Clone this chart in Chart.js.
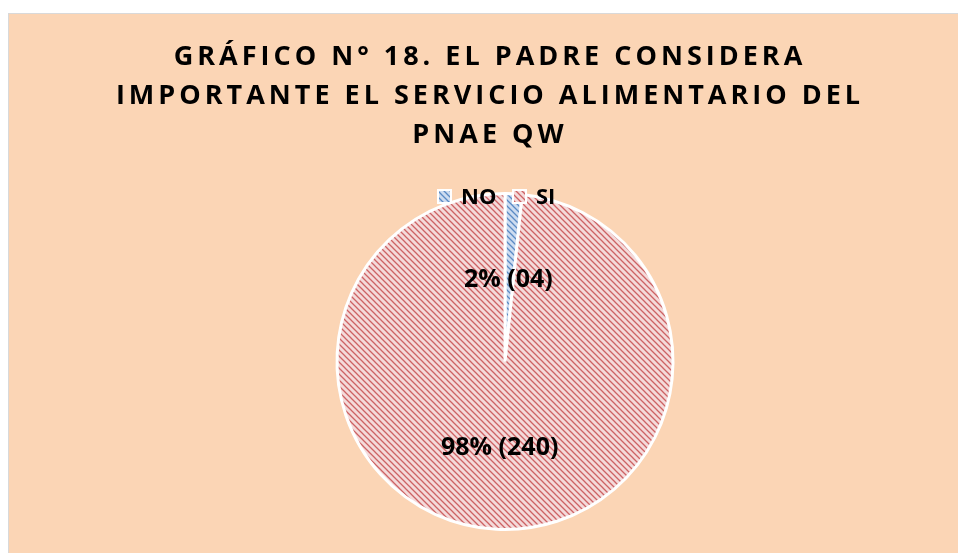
<!DOCTYPE html>
<html>
<head>
<meta charset="utf-8">
<script src="https://cdn.jsdelivr.net/npm/chart.js@4.4.0/dist/chart.umd.min.js"></script>
<style>
    body { margin: 0; background: #ffffff; }
    #wrap {
        position: absolute; left: 8px; top: 13px;
        width: 950px; height: 540px;
        border-left: 1px solid #d9d9d9; border-top: 1px solid #d9d9d9;
        background: #fbd5b5;
    }
    canvas { display: block; }
</style>
</head>
<body>
<div id="wrap"><canvas id="pieChart" width="949" height="539" style="width:949px;height:539px"></canvas></div>
<script>
const titleLines = ['GRÁFICO N° 18. EL PADRE CONSIDERA', 'IMPORTANTE EL SERVICIO ALIMENTARIO DEL', 'PNAE QW'];
const categories = ['NO', 'SI'];
const counts = [4, 240];
const countLabels = ['04', '240'];

function makeHatch(base, line) {
    const size = 6;
    const c = document.createElement('canvas');
    c.width = size;
    c.height = size;
    const g = c.getContext('2d');
    g.fillStyle = base;
    g.fillRect(0, 0, size, size);
    g.strokeStyle = line;
    g.lineWidth = 1.3;
    g.beginPath();
    g.moveTo(-1, -1); g.lineTo(size + 1, size + 1);
    g.moveTo(-1, size - 1); g.lineTo(1, size + 1);
    g.moveTo(size - 1, -1); g.lineTo(size + 1, 1);
    g.stroke();
    return g.createPattern(c, 'repeat');
}

const fills = [makeHatch('#cddcf0', '#5a8ac4'), makeHatch('#f4dada', '#cd6264')];

// title, legend and slice labels drawn by hand (Excel style)
const excelBits = {
    id: 'excelBits',
    afterDraw(chart) {
        const ctx = chart.ctx;
        ctx.save();
        ctx.fillStyle = '#000000';
        ctx.textBaseline = 'alphabetic';
        ctx.textAlign = 'center';

        // title with letter spacing
        ctx.font = 'bold 27px "Open Sans"';
        ctx.letterSpacing = '4px';
        titleLines.forEach((line, i) => {
            ctx.fillText(line, 481, 51 + i * 39);
        });
        ctx.letterSpacing = '0px';

        // legend
        ctx.font = 'bold 22px "Open Sans"';
        ctx.textAlign = 'left';
        const legendX = [429, 504];
        categories.forEach((name, i) => {
            const x = legendX[i];
            ctx.fillStyle = '#ffffff';
            ctx.fillRect(x - 1, 175, 15, 15);
            ctx.fillStyle = fills[i];
            ctx.fillRect(x + 1, 177, 11, 11);
            ctx.fillStyle = '#000000';
            ctx.fillText(name, x + 23, 190);
        });

        // slice labels
        const meta = chart.getDatasetMeta(0);
        const total = counts.reduce((a, b) => a + b, 0);
        ctx.font = 'bold 25px "Open Sans"';
        ctx.textAlign = 'center';
        ctx.textBaseline = 'middle';
        meta.data.forEach((arc, i) => {
            const pos = arc.tooltipPosition();
            const pct = Math.round(counts[i] / total * 100);
            ctx.fillText(pct + '% (' + countLabels[i] + ')', pos.x - 1, pos.y + 2);
        });
        ctx.restore();
    }
};

new Chart(document.getElementById('pieChart').getContext('2d'), {
    type: 'pie',
    data: {
        labels: categories,
        datasets: [{
            data: counts,
            backgroundColor: fills,
            borderColor: '#ffffff',
            borderWidth: 3
        }]
    },
    options: {
        responsive: false,
        animation: false,
        layout: {
            padding: { top: 178, bottom: 22, left: 43, right: 0 }
        },
        plugins: {
            legend: { display: false },
            title: { display: false },
            tooltip: { enabled: false }
        }
    },
    plugins: [excelBits]
});
</script>
</body>
</html>
